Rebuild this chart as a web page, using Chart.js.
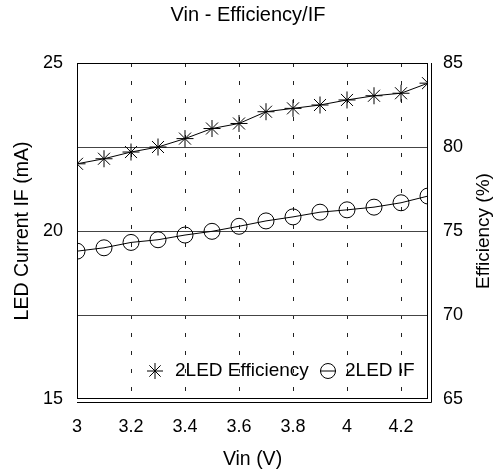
<!DOCTYPE html>
<html>
<head>
<meta charset="utf-8">
<script src="https://cdn.jsdelivr.net/npm/chart.js@4.4.1/dist/chart.umd.min.js"></script>
<style>
  html, body { margin: 0; padding: 0; background: #fff; }
  #wrap { width: 496px; height: 472px; }
</style>
</head>
<body>
<div id="wrap"><canvas id="chart"></canvas></div>
<script>
// Data
const vin = [3.0, 3.1, 3.2, 3.3, 3.4, 3.5, 3.6, 3.7, 3.8, 3.9, 4.0, 4.1, 4.2, 4.3];
const efficiency = [79.0, 79.3, 79.7, 80.0, 80.5, 81.1, 81.4, 82.1, 82.3, 82.5, 82.8, 83.05, 83.2, 83.8];
const ledCurrent = [19.4, 19.5, 19.66, 19.74, 19.88, 19.99, 20.14, 20.3, 20.42, 20.56, 20.63, 20.71, 20.84, 21.04];

const xTicks = [3, 3.2, 3.4, 3.6, 3.8, 4, 4.2];
const leftTicks = [15, 20, 25];
const rightTicks = [65, 70, 75, 80, 85];

const FONT = 'Liberation Sans, Arial, sans-serif';

// frame around plot, right axis title and the legend inside the plot
const framePlugin = {
    id: 'frame',
    afterDatasetsDraw(chart) {
        const { ctx, chartArea: a } = chart;
        ctx.save();
        ctx.strokeStyle = '#000';
        ctx.lineWidth = 1;
        ctx.strokeRect(a.left + 0.5, a.top + 0.5, a.right - a.left - 1, a.bottom - a.top - 1);
        // second line on right and bottom
        ctx.beginPath();
        ctx.moveTo(a.right + 3.5, a.top);
        ctx.lineTo(a.right + 3.5, a.bottom + 3.5);
        ctx.lineTo(a.left, a.bottom + 3.5);
        ctx.stroke();
        ctx.restore();
    },
    afterDraw(chart) {
        const { ctx, chartArea: a } = chart;
        ctx.save();
        ctx.fillStyle = '#000';
        ctx.font = '19px ' + FONT;
        ctx.textAlign = 'center';
        ctx.textBaseline = 'middle';
        ctx.translate(484, (a.top + a.bottom) / 2);
        ctx.rotate(-Math.PI / 2);
        ctx.fillText('Efficiency (%)', 0, 0);
        ctx.restore();

        const y = 371;
        ctx.save();
        ctx.strokeStyle = '#000';
        ctx.fillStyle = '#000';
        ctx.lineWidth = 1;
        // star marker
        const sx = 155, r = 8;
        ctx.beginPath();
        for (let i = 0; i < 4; i++) {
            const ang = i * Math.PI / 4;
            ctx.moveTo(sx - r * Math.cos(ang), y - r * Math.sin(ang));
            ctx.lineTo(sx + r * Math.cos(ang), y + r * Math.sin(ang));
        }
        ctx.stroke();
        ctx.font = '19px ' + FONT;
        ctx.textBaseline = 'middle';
        ctx.fillText('2LED Efficiency', 175, y);
        // circle marker with line
        const cx = 328;
        ctx.beginPath();
        ctx.arc(cx, y, 7.5, 0, Math.PI * 2);
        ctx.moveTo(cx - 8, y);
        ctx.lineTo(cx + 8, y);
        ctx.stroke();
        ctx.fillText('2LED IF', 345, y);
        ctx.restore();
    }
};

new Chart(document.getElementById('chart'), {
    type: 'line',
    data: {
        datasets: [
            {
                label: '2LED Efficiency',
                data: vin.map((v, i) => ({ x: v, y: efficiency[i] })),
                yAxisID: 'yR',
                borderColor: '#000',
                borderWidth: 1,
                pointStyle: 'star',
                pointRadius: 8.5,
                pointBorderColor: '#000',
                pointBorderWidth: 1,
                pointBackgroundColor: '#000',
                tension: 0
            },
            {
                label: '2LED IF',
                data: vin.map((v, i) => ({ x: v, y: ledCurrent[i] })),
                yAxisID: 'y',
                borderColor: '#000',
                borderWidth: 1,
                pointStyle: 'circle',
                pointRadius: 8,
                pointBorderColor: '#000',
                pointBorderWidth: 1,
                pointBackgroundColor: 'rgba(0,0,0,0)',
                tension: 0
            }
        ]
    },
    options: {
        responsive: true,
        maintainAspectRatio: false,
        animation: false,
        layout: { padding: 0 },
        plugins: {
            legend: { display: false },
            tooltip: { enabled: false },
            title: {
                display: true,
                text: 'Vin - Efficiency/IF',
                color: '#000',
                font: { family: FONT, size: 20, weight: 'normal' },
                padding: { top: 3, bottom: 36 }
            }
        },
        scales: {
            x: {
                type: 'linear',
                min: 3,
                max: 4.3,
                afterBuildTicks: s => { s.ticks = xTicks.map(v => ({ value: v })); },
                afterFit: s => { s.height = 73; },
                ticks: {
                    color: '#000',
                    padding: 17,
                    font: { family: FONT, size: 18 },
                    callback: v => String(Math.round(v * 10) / 10)
                },
                grid: {
                    drawTicks: false,
                    color: ctx => (ctx.tick && ctx.tick.value === 3) ? 'rgba(0,0,0,0)' : '#222'
                },
                border: { display: false, dash: [4, 14] },
                title: {
                    display: true,
                    text: 'Vin (V)',
                    color: '#000',
                    font: { family: FONT, size: 19.5 },
                    padding: { top: 0, bottom: 1 }
                }
            },
            y: {
                position: 'left',
                min: 15,
                max: 25,
                afterBuildTicks: s => { s.ticks = leftTicks.map(v => ({ value: v })); },
                afterFit: s => { s.width = 77; },
                ticks: { color: '#000', padding: 14, font: { family: FONT, size: 18 } },
                grid: { display: false, drawTicks: false },
                border: { display: false },
                title: {
                    display: true,
                    text: 'LED Current IF (mA)',
                    color: '#000',
                    font: { family: FONT, size: 19.5 },
                    padding: { top: 10.5, bottom: 0 }
                }
            },
            yR: {
                position: 'right',
                min: 65,
                max: 85,
                afterBuildTicks: s => { s.ticks = rightTicks.map(v => ({ value: v })); },
                afterFit: s => { s.width = 68; },
                ticks: { color: '#000', padding: 15, font: { family: FONT, size: 18 } },
                grid: {
                    drawTicks: false,
                    color: ctx => (ctx.tick && (ctx.tick.value === 65 || ctx.tick.value === 85)) ? 'rgba(0,0,0,0)' : '#444'
                },
                border: { display: false }
            }
        }
    },
    plugins: [framePlugin]
});
</script>
</body>
</html>
